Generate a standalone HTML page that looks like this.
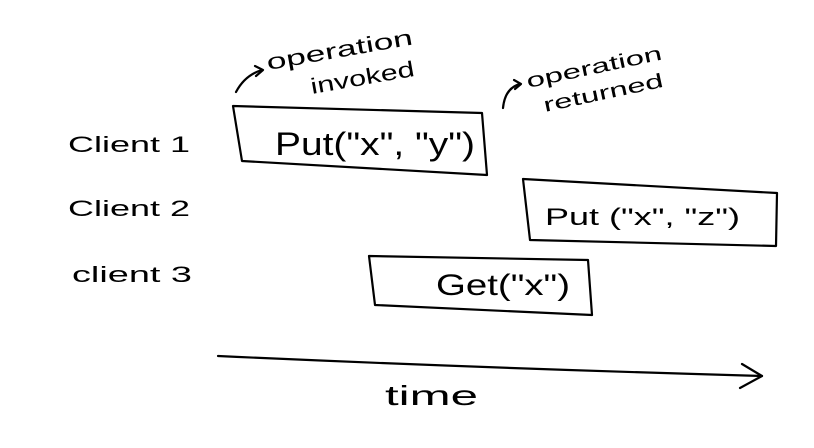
<!DOCTYPE html>
<html><head><style>
html,body{margin:0;padding:0;background:#fff;width:814px;height:448px;overflow:hidden}
svg text{font-family:"Liberation Sans",sans-serif;fill:#000}
</style></head><body>
<svg width="814" height="448" viewBox="0 0 814 448" xmlns="http://www.w3.org/2000/svg">
<g fill="none" stroke="#000" stroke-width="2.2" stroke-linejoin="round" stroke-linecap="round">
<polygon points="233,106 482,113 487,175 242,161"/>
<polygon points="523,179 777,193 776,246 530,240"/>
<polygon points="369,256 588,260 592,315 375,305"/>
<path d="M218,356 Q480,368 762,376"/>
<path d="M742,364 L762,376 L740,388"/>
<path d="M236,92 Q245,75 262,70"/>
<path d="M255,66 L263,70 L256,76"/>
<path d="M503,108 Q505,88 520,84"/>
<path d="M514,80 L521,84 L515,89"/>
</g>
<text x="268" y="70" font-size="22" textLength="148" lengthAdjust="spacingAndGlyphs" transform="rotate(-10 268 70)">operation</text>
<text x="312" y="94" font-size="22" textLength="105" lengthAdjust="spacingAndGlyphs" transform="rotate(-10 312 94)">invoked</text>
<text x="528" y="88" font-size="20" textLength="138" lengthAdjust="spacingAndGlyphs" transform="rotate(-12 528 88)">operation</text>
<text x="545" y="112" font-size="20" textLength="122" lengthAdjust="spacingAndGlyphs" transform="rotate(-12 545 112)">returned</text>
<text x="68" y="152" font-size="22" textLength="122" lengthAdjust="spacingAndGlyphs">Client 1</text>
<text x="68" y="216" font-size="22" textLength="122" lengthAdjust="spacingAndGlyphs">Client 2</text>
<text x="72" y="282" font-size="22" textLength="120" lengthAdjust="spacingAndGlyphs">client 3</text>
<text x="275" y="155" font-size="32" textLength="200" lengthAdjust="spacingAndGlyphs">Put("x", "y")</text>
<text x="545" y="225" font-size="24" textLength="195" lengthAdjust="spacingAndGlyphs">Put ("x", "z")</text>
<text x="436" y="295" font-size="30" textLength="134" lengthAdjust="spacingAndGlyphs">Get("x")</text>
<text x="385" y="405" font-size="28" textLength="93" lengthAdjust="spacingAndGlyphs">time</text>
</svg>
</body></html>
